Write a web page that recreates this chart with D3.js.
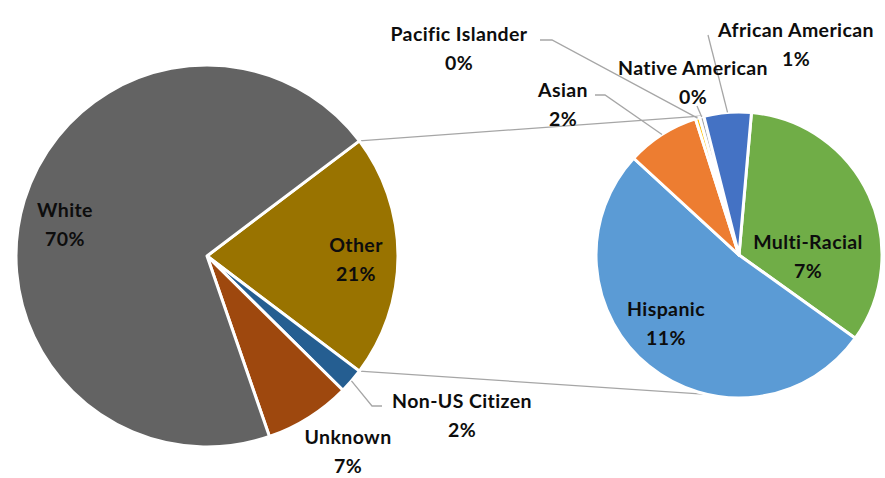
<html>
<head>
<style>
  body { margin: 0; background: #fff; }
  text { font-family: Lato, "Open Sans", sans-serif; font-weight: bold; font-size: 19.5px; letter-spacing: 0.4px; fill: #0d0d0d; }
</style>
</head>
<body>
<svg id="container" width="885" height="478"></svg>
<script src="https://cdn.jsdelivr.net/npm/d3@7"></script>
<script>
// main pie (share of all students, %)
const mainLabels = ["Other", "Non-US Citizen", "Unknown", "White"]
const mainValues = [20.6, 2.1, 7.3, 70.0]
const mainColors = ["#997300", "#255E91", "#9E480E", "#636363"]

// breakdown of "Other" (%)
const subLabels = ["Multi-Racial", "Hispanic", "Asian", "Pacific Islander", "Native American", "African American"]
const subValues = [6.9, 10.7, 1.7, 0.1, 0.1, 1.1]
const subColors = ["#70AD47", "#5B9BD5", "#ED7D31", "#FFC000", "#A5A5A5", "#4472C4"]

// label placement (text centre of first line) + leader line stubs
const labelPos = {
  "White": [65, 210],
  "Other": [356, 245],
  "Unknown": [348, 437],
  "Non-US Citizen": [462, 401],
  "Multi-Racial": [808, 242],
  "Hispanic": [666, 309],
  "Asian": [563, 90],
  "Pacific Islander": [459, 34],
  "Native American": [693, 68],
  "African American": [796, 30]
}
const leaderStart = {
  "Non-US Citizen": [[382, 406], [372, 406]],
  "Asian": [[595, 95], [605, 95]],
  "Pacific Islander": [[540, 40], [552, 40]],
  "Native American": [[697, 106]],
  "African American": [[708, 35]]
}

let svg = d3.select("#container")
let toRad = d => d * Math.PI / 180

let main = { cx: 207, cy: 256, r: 191 }
let sub = { cx: 739, cy: 255, r: 143 }

let otherAngle = 360 * mainValues[0] / d3.sum(mainValues)
let mainStart = toRad(90 - otherAngle / 2)

let mainPie = d3.pie().sort(null).value(d => d.v)
  .startAngle(mainStart).endAngle(mainStart + 2 * Math.PI)
let subPie = d3.pie().sort(null).value(d => d.v)
  .startAngle(toRad(5)).endAngle(toRad(365))

let mainData = mainPie(mainLabels.map((l, i) => ({ name: l, v: mainValues[i], c: mainColors[i] })))
let subData = subPie(subLabels.map((l, i) => ({ name: l, v: subValues[i], c: subColors[i] })))

function pt(p, a, r) {
  return [p.cx + r * Math.sin(a), p.cy - r * Math.cos(a)]
}

// connector lines between the two pies
let otherSlice = mainData[0]
let connectors = [
  [pt(main, otherSlice.startAngle, main.r), pt(sub, toRad(-13), sub.r)],
  [pt(main, otherSlice.endAngle, main.r), pt(sub, toRad(193), sub.r)]
]
svg.selectAll(".conn")
  .data(connectors)
  .enter()
  .append("path")
  .attr("d", d => d3.line()(d))
  .attr("stroke", "#A6A6A6")
  .attr("stroke-width", 1.3)
  .attr("fill", "none")

function drawPie(p, data) {
  let arc = d3.arc().innerRadius(0).outerRadius(p.r)
  svg.append("g")
    .attr("transform", `translate(${p.cx},${p.cy})`)
    .selectAll("path")
    .data(data)
    .enter()
    .append("path")
    .attr("d", arc)
    .attr("fill", d => d.data.c)
    .attr("stroke", "#fff")
    .attr("stroke-width", 3)
    .attr("stroke-linejoin", "round")
}
drawPie(main, mainData)
drawPie(sub, subData)

// leader lines
let leaders = []
mainData.concat(subData).forEach(d => {
  let s = leaderStart[d.data.name]
  if (!s) return
  let p = mainData.includes(d) ? main : sub
  let mid = (d.startAngle + d.endAngle) / 2
  leaders.push(s.concat([pt(p, mid, p.r)]))
})
svg.selectAll(".leader")
  .data(leaders)
  .enter()
  .append("path")
  .attr("d", d => d3.line()(d))
  .attr("stroke", "#A6A6A6")
  .attr("stroke-width", 1.3)
  .attr("fill", "none")

// labels
let fmt = d3.format(".0f")
let all = mainData.concat(subData)
let labels = svg.selectAll(".lbl")
  .data(all)
  .enter()
  .append("text")
  .attr("text-anchor", "middle")
labels.append("tspan")
  .attr("x", d => labelPos[d.data.name][0])
  .attr("y", d => labelPos[d.data.name][1] + 7)
  .text(d => d.data.name)
labels.append("tspan")
  .attr("x", d => labelPos[d.data.name][0])
  .attr("y", d => labelPos[d.data.name][1] + 36)
  .text(d => fmt(d.data.v) + "%")
</script>
</body>
</html>
